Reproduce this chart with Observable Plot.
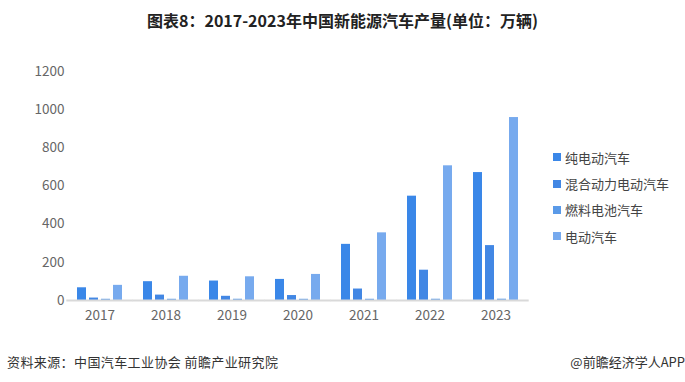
<!DOCTYPE html>
<html>
<head>
<meta charset="utf-8">
<script src="https://cdn.jsdelivr.net/npm/d3@7"></script>
<script src="https://cdn.jsdelivr.net/npm/@observablehq/plot@0.6"></script>
<style>
  html, body { margin: 0; padding: 0; background: #fff; }
  #wrap { position: relative; width: 685px; height: 382px; overflow: hidden; font-family: "Noto Sans CJK SC", "Noto Sans", sans-serif; }
  #title { position: absolute; left: 0; top: 8px; width: 685px; text-align: center; font-size: 16px; font-weight: bold; color: #222; }
  #legend { position: absolute; left: 553px; top: 144px; font-size: 13px; color: #444; }
  .li { display: flex; align-items: center; height: 26.4px; }
  .sw { width: 8px; height: 8px; margin-right: 4px; }
  #src { position: absolute; left: 7px; top: 352px; font-size: 13px; color: #333; letter-spacing: 0.4px; }
  #brand { position: absolute; right: 0px; top: 352px; font-size: 13px; color: #333; }
  #chart { position: absolute; left: 0; top: 0; }
</style>
</head>
<body>
<div id="wrap">
  <div id="chart"></div>
  <div id="title">图表8：2017-2023年中国新能源汽车产量(单位：万辆)</div>
  <div id="legend"></div>
  <div id="src">资料来源：中国汽车工业协会 前瞻产业研究院</div>
  <div id="brand">@前瞻经济学人APP</div>
</div>
<script>
const years = ["2017", "2018", "2019", "2020", "2021", "2022", "2023"];
const seriesNames = ["纯电动汽车", "混合动力电动汽车", "燃料电池汽车", "电动汽车"];
const pureEV = [66.6, 98.6, 102.0, 110.5, 294.2, 546.7, 670.4];
const hybridEV = [12.8, 28.3, 22.0, 26.0, 60.1, 158.8, 287.7];
const fuelCellEV = [0.13, 0.15, 0.3, 0.1, 0.18, 0.37, 0.56];
const totalEV = [79.4, 127.0, 124.2, 136.6, 354.5, 705.8, 958.7];
const yTicks = [0, 200, 400, 600, 800, 1000, 1200];
const colors = ["#3a87e8", "#4287e4", "#5a9ae8", "#77aaee"];

const seriesValues = [pureEV, hybridEV, fuelCellEV, totalEV];
const data = [];
years.forEach((yr, i) => {
  seriesNames.forEach((s, j) => data.push({year: yr, series: s, value: seriesValues[j][i]}));
});
const small = data.filter(d => d.series === "燃料电池汽车");
const big = data.filter(d => d.series !== "燃料电池汽车");

const chart = Plot.plot({
  width: 685,
  height: 382,
  marginLeft: 65,
  marginRight: 156,
  marginTop: 71,
  marginBottom: 82,
  style: {fontFamily: "'Noto Sans CJK SC', 'Noto Sans', sans-serif", fontSize: "13.5px", color: "#666", background: "transparent"},
  fx: {domain: years, paddingInner: 0.32, paddingOuter: 0.16, label: null, axis: "bottom", tickSize: 0, tickPadding: 10},
  x: {domain: seriesNames, paddingInner: 0.25, paddingOuter: 0, axis: null},
  y: {domain: [0, 1200], ticks: yTicks, tickFormat: d => String(d), tickSize: 0, tickPadding: 13, label: null},
  color: {domain: seriesNames, range: colors},
  marks: [
    Plot.barY(big, {fx: "year", x: "series", y: "value", fill: "series"}),
    Plot.barY(small, {fx: "year", x: "series", y: "value", fill: "series", insetTop: -1.2}),
    Plot.ruleY([0], {stroke: "#d9d9d9", strokeWidth: 2, insetLeft: -10.7, insetRight: -10.7})
  ]
});
document.getElementById("chart").appendChild(chart);

const legend = document.getElementById("legend");
seriesNames.forEach((s, j) => {
  const li = document.createElement("div");
  li.className = "li";
  li.innerHTML = `<span class="sw" style="background:${colors[j]}"></span><span>${s}</span>`;
  legend.appendChild(li);
});
</script>
</body>
</html>
